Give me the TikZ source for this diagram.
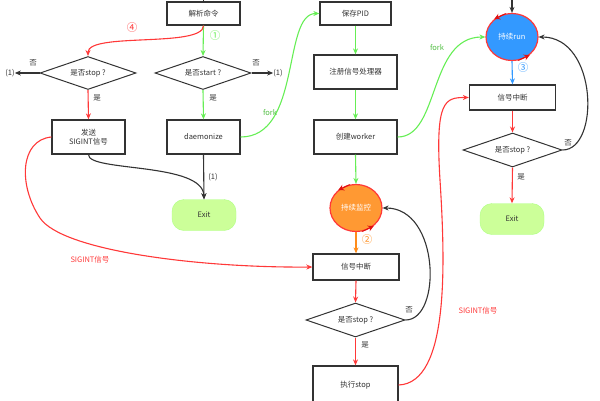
\documentclass[tikz,border=0pt]{standalone}
\usepackage{fontspec}
\setmainfont{Noto Sans CJK SC}
\usetikzlibrary{shapes.geometric,arrows.meta}
\definecolor{gline}{HTML}{66EE55}
\definecolor{rline}{HTML}{FF3838}
\definecolor{bline}{HTML}{3399FF}
\definecolor{oline}{HTML}{FF8C1A}
\definecolor{dk}{HTML}{333333}
\definecolor{exitc}{HTML}{CCFF99}
\definecolor{orangef}{HTML}{FF9933}
\definecolor{bluef}{HTML}{3399FF}
\definecolor{mkc}{HTML}{E01010}
\begin{document}
\begin{tikzpicture}[x=1pt,y=-1pt,
  font=\fontsize{7.5}{9}\selectfont, text=dk,
  >={Stealth[length=6pt,width=5pt]},
  box/.style={draw=dk, line width=1.3pt, fill=white, rectangle, inner sep=1pt, align=center},
  dia/.style={draw=dk, line width=1pt, diamond, aspect=2.9, inner sep=0pt, minimum width=96pt, minimum height=33pt},
  exitn/.style={fill=exitc, draw=exitc!85!green, rounded corners=12pt, minimum width=64pt, minimum height=31pt},
  ell/.style={ellipse, draw=rline, line width=1.2pt, minimum width=52pt, minimum height=47pt, inner sep=0pt, text=white},
  mk/.style={mkc, line width=1pt, -{Stealth[length=6pt,width=6pt]}},
  conn/.style={line width=1.1pt, ->},
  lbl/.style={inner sep=0pt},
  num/.style={inner sep=0pt, font=\fontsize{10.5}{11}\selectfont}
]
\useasboundingbox (0,0) rectangle (600,400);
\clip (0,0) rectangle (600,400);

% nodes
\node[box, minimum width=73pt, minimum height=23pt] (parse) at (203.5,13.5) {解析命令};
\node[dia] (stopL) at (88,73) {是否stop ?};
\node[dia] (start) at (203,73) {是否start ?};
\node[box, minimum width=73pt, minimum height=34pt] (send) at (88.5,137) {发送\\SIGINT信号};
\node[box, minimum width=73pt, minimum height=34pt] (daem) at (203.5,137) {daemonize};
\node[exitn] (exitL) at (204,215) {Exit};
\node[box, minimum width=71pt, minimum height=23pt] (pid) at (355.5,13.5) {保存PID};
\node[box, minimum width=83pt, minimum height=34pt] (reg) at (355.5,72) {注册信号处理器};
\node[box, minimum width=83pt, minimum height=34pt] (worker) at (355.5,137) {创建worker};
\node[ell, fill=orangef] (mon) at (356,208) {持续监控};
\node[box, minimum width=86pt, minimum height=26pt] (intM) at (356,267) {信号中断};
\node[dia, minimum width=99pt, minimum height=34pt] (stopM) at (355.5,320) {是否stop ?};
\node[box, minimum width=85pt, minimum height=38pt] (exec) at (355.5,385) {执行stop};
\node[ell, fill=bluef] (run) at (512,37) {持续run};
\node[box, minimum width=86pt, minimum height=25pt] (intR) at (512.5,97.5) {信号中断};
\node[dia, minimum width=99pt, minimum height=34pt] (stopR) at (512.5,150) {是否stop ?};
\node[exitn] (exitR) at (512,219) {Exit};

% small arrow marks on the circle outlines
\draw[mk] (mon.105) -- (mon.135);
\draw[mk] (mon.-75) -- (mon.-45);
\draw[mk] (run.105) -- (run.135);
\draw[mk] (run.-75) -- (run.-45);

% free ends
\coordinate (topP) at (203.5,-3);
\coordinate (topR) at (512,-3);
\node[lbl] (oneL) at (10,73) {(1)};
\node[lbl] (oneR) at (278,73) {(1)};

% connectors
\draw[line width=1.1pt, dk] (topP) -- (parse.north);
\draw[conn, dk] (topR) -- (run.north);
\draw[conn, gline] (parse.south) -- (start.north);
\draw[conn, rline] (parse.south) .. controls (203,48) and (88,32) .. (stopL.north);
\draw[conn, dk] (stopL.west) -- (oneL.east);
\draw[conn, dk] (start.east) -- (oneR.west);
\draw[conn, rline] (stopL.south) -- (send.north);
\draw[conn, gline] (start.south) -- (daem.north);
\draw[conn, dk] (daem.south) -- (exitL.north);
\draw[conn, dk] (send.south) .. controls (88,172) and (203,162) .. (exitL.north);
\draw[conn, gline] (daem.east) .. controls (302,137) and (282,13.5) .. (pid.west);
\draw[conn, gline] (pid.south) -- (reg.north);
\draw[conn, gline] (reg.south) -- (worker.north);
\draw[conn, gline] (worker.south) -- (mon.north);
\draw[conn, gline] (worker.east) .. controls (440,137) and (428,37) .. (run.west);
\draw[conn, oline] (mon.south) -- (intM.north);
\draw[conn, rline] (intM.south) -- (stopM.north);
\draw[conn, rline] (stopM.south) -- (exec.north);
\draw[conn, dk] (stopM.east) .. controls (442,320) and (440,208) .. (mon.east);
\draw[conn, rline] (send.west) .. controls (20,140) and (18,185) .. (40,218) .. controls (62,251) and (200,268) .. (intM.west);
\draw[conn, rline] (exec.east) .. controls (450,383) and (445,260) .. (440,180) .. controls (435,100) and (445,97.5) .. (intR.west);
\draw[conn, bline] (run.south) -- (intR.north);
\draw[conn, rline] (intR.south) -- (stopR.north);
\draw[conn, rline] (stopR.south) -- (exitR.north);
\draw[conn, dk] (stopR.east) .. controls (600,150) and (598,37) .. (run.east);

% labels
\node[lbl] (nL) at (33,63) {否};
\node[lbl] (nR) at (256,63) {否};
\node[lbl] (yL) at (97,98) {是};
\node[lbl] (yS) at (213,98) {是};
\node[lbl] (one1) at (213,177) {(1)};
\node[num, text=gline] (c1) at (215,36) {①};
\node[num, text=rline] (c4) at (132,28) {④};
\node[num, text=oline] (c2) at (367,240) {②};
\node[num, text=bline] (c3) at (523,68) {③};
\node[lbl, text=gline!80!black] (forkL) at (270,113) {fork};
\node[lbl, text=gline!80!black] (forkR) at (437,48) {fork};
\node[lbl, text=rline] (sigL) at (90,260) {SIGINT信号};
\node[lbl, text=rline] (sigR) at (478,311) {SIGINT信号};
\node[lbl] (yM) at (365,345) {是};
\node[lbl] (nM) at (409,310) {否};
\node[lbl] (yR) at (521,177) {是};
\node[lbl] (nRR) at (568,143) {否};
\end{tikzpicture}
\end{document}
